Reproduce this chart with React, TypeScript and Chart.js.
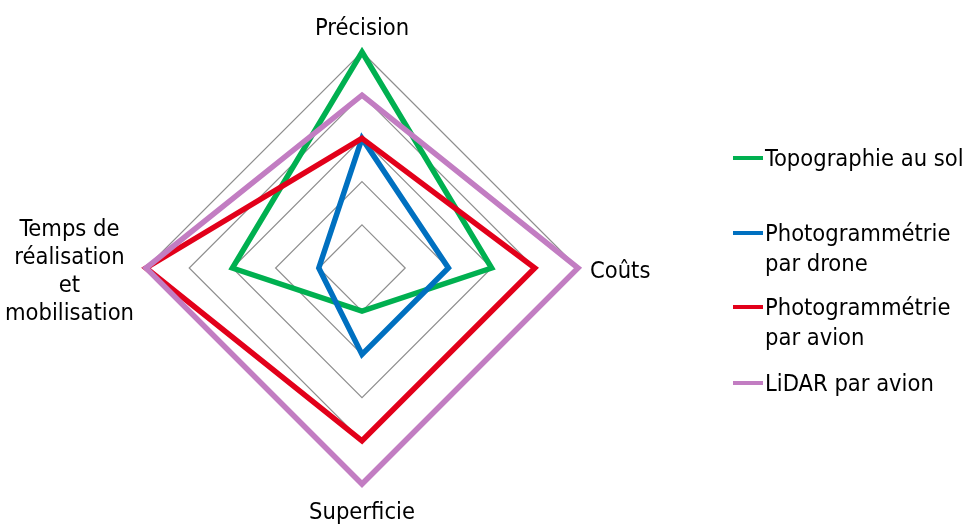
import { useEffect, useRef } from "react";
import { Chart, registerables } from "chart.js";

Chart.register(...registerables);

// Axes of the comparison (clockwise from the top)
const axisLabels: (string | string[])[] = [
  "Précision",
  "Coûts",
  "Superficie",
  ["Temps de", "réalisation", "et", "mobilisation"],
];

// Scores per method on a 0–5 scale
const topographieAuSol = [5, 3, 1, 3];
const photogrammetrieDrone = [3, 2, 2, 1];
const photogrammetrieAvion = [3, 4, 4, 5];
const lidarAvion = [4, 5, 5, 5];

const seriesNames: (string | string[])[] = [
  "Topographie au sol",
  ["Photogrammétrie", "par drone"],
  ["Photogrammétrie", "par avion"],
  "LiDAR par avion",
];
const seriesColors = ["#00B050", "#0070C0", "#E2001A", "#C27DC2"];
const seriesValues = [topographieAuSol, photogrammetrieDrone, photogrammetrieAvion, lidarAvion];

const scaleMin = 0;
const scaleMax = 5;
const scaleStep = 1;

const FONT = "'DejaVu Sans Condensed', 'DejaVu Sans', sans-serif";
const FONT_SIZE = 23.5;
const LINE_H = 28;

// Draws the axis titles around the web, side blocks centred line by line
const axisTitlePlugin = {
  id: "axisTitles",
  afterDraw(chart: any) {
    const r = chart.scales.r;
    if (!r) return;
    const ctx = chart.ctx;
    const gap = 12;
    ctx.save();
    ctx.font = `${FONT_SIZE}px ${FONT}`;
    ctx.fillStyle = "#000";
    ctx.textBaseline = "alphabetic";
    axisLabels.forEach((lbl, i) => {
      const lines = Array.isArray(lbl) ? lbl : [lbl];
      const p = r.getPointPosition(i, r.drawingArea + gap);
      const c = Math.cos(p.angle);
      const s = Math.sin(p.angle);
      if (s < -0.5) {
        // top
        ctx.textAlign = "center";
        lines.forEach((t, k) => {
          ctx.fillText(t, p.x, p.y - 5 - (lines.length - 1 - k) * LINE_H);
        });
      } else if (s > 0.5) {
        // bottom
        ctx.textAlign = "center";
        lines.forEach((t, k) => {
          ctx.fillText(t, p.x, p.y + 23 + k * LINE_H);
        });
      } else {
        const widths = lines.map((t) => ctx.measureText(t).width);
        const maxW = Math.max(...widths);
        const first = p.y + 10 - ((lines.length - 1) * LINE_H) / 2;
        ctx.textAlign = "center";
        const cx = c > 0 ? p.x + maxW / 2 : p.x - maxW / 2;
        lines.forEach((t, k) => {
          if (lines.length === 1) {
            ctx.textAlign = c > 0 ? "left" : "right";
            ctx.fillText(t, p.x, first);
          } else {
            ctx.fillText(t, cx, first + k * LINE_H);
          }
        });
      }
    });
    ctx.restore();
  },
};

export default function App() {
  const canvasRef = useRef<HTMLCanvasElement | null>(null);

  useEffect(() => {
    if (!canvasRef.current) return;
    const chart = new Chart(canvasRef.current, {
      type: "radar",
      data: {
        labels: axisLabels as any,
        datasets: seriesValues.map((vals, i) => ({
          label: Array.isArray(seriesNames[i]) ? (seriesNames[i] as string[]).join(" ") : (seriesNames[i] as string),
          data: vals,
          borderColor: seriesColors[i],
          backgroundColor: seriesColors[i],
          borderWidth: 5.5,
          fill: false,
          pointRadius: 0,
          pointHoverRadius: 0,
          borderJoinStyle: "miter" as const,
          order: seriesValues.length - i,
        })),
      },
      options: {
        responsive: false,
        animation: false,
        devicePixelRatio: 1,
        layout: { padding: { left: 146, right: 388, top: 52, bottom: 41 } },
        plugins: {
          legend: { display: false },
          tooltip: { enabled: false },
        },
        scales: {
          r: {
            min: scaleMin,
            max: scaleMax,
            ticks: { stepSize: scaleStep, display: false },
            grid: { color: "#8E8E8E", lineWidth: 1.2 },
            angleLines: { display: false },
            pointLabels: { display: false },
          },
        },
      },
      plugins: [axisTitlePlugin],
    });
    return () => chart.destroy();
  }, []);

  const legendTops = [143, 218, 292, 368];

  return (
    <div style={{ position: "absolute", left: 0, top: 0, width: 966, height: 525, background: "#fff" }}>
      <canvas ref={canvasRef} width={966} height={525} style={{ position: "absolute", left: 0, top: 0 }} />
      {seriesNames.map((name, i) => {
        const lines = Array.isArray(name) ? name : [name];
        return (
          <div
            key={i}
            style={{
              position: "absolute",
              left: 733,
              top: legendTops[i],
              display: "flex",
              alignItems: "flex-start",
              fontFamily: FONT,
              fontSize: FONT_SIZE,
              lineHeight: "30px",
              color: "#000",
              whiteSpace: "nowrap",
            }}
          >
            <div style={{ width: 30, height: 4, marginTop: 13, marginRight: 2, background: seriesColors[i] }} />
            <div>
              {lines.map((t, k) => (
                <div key={k}>{t}</div>
              ))}
            </div>
          </div>
        );
      })}
    </div>
  );
}
